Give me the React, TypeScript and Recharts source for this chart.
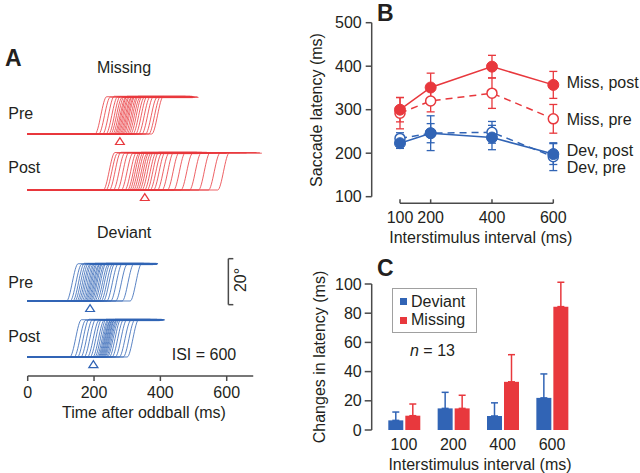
import React from "react";
import {
    ComposedChart,
    LineChart,
    BarChart,
    Line,
    Bar,
    Scatter,
    XAxis,
    YAxis,
    ErrorBar,
    ReferenceLine,
} from "recharts";

const RED = "#e8383d";
const BLUE = "#3164b5";
const INK = "#231f20";
const AXIS = "#4a4a4a";
const FONT = "'Liberation Sans', Arial, Helvetica, sans-serif";

// ---- panel A: single saccade traces, [onset ms, end ms, amplitude deg]
const missPreTraces: [number, number, number][] = [
    [203, 482, 16.2], [214, 478, 16.0], [226, 490, 16.4], [236, 486, 16.1], [244, 495, 16.3],
    [250, 480, 15.9], [256, 500, 16.2], [261, 488, 16.0], [265, 476, 16.4], [269, 492, 16.1],
    [273, 484, 16.3], [277, 498, 15.8], [281, 486, 16.2], [285, 505, 16.0], [289, 490, 16.3],
    [294, 482, 16.1], [299, 496, 16.4], [304, 488, 15.9], [310, 512, 16.2], [317, 494, 16.0],
    [325, 485, 16.3], [334, 500, 16.1], [344, 490, 16.2], [355, 515, 15.9], [365, 497, 16.1],
    [374, 488, 16.3],
];
const missPostTraces: [number, number, number][] = [
    [228, 520, 16.3], [236, 505, 16.0], [246, 540, 16.4], [258, 498, 16.1], [270, 530, 16.3],
    [282, 512, 15.9], [293, 560, 16.2], [301, 500, 16.0], [307, 525, 16.4], [313, 508, 16.1],
    [319, 545, 16.3], [325, 515, 15.8], [331, 500, 16.2], [337, 535, 16.0], [344, 520, 16.3],
    [352, 580, 16.1], [360, 510, 16.4], [369, 550, 15.9], [379, 600, 16.2], [391, 530, 16.0],
    [405, 620, 16.3], [421, 570, 16.1], [440, 640, 16.2], [462, 600, 15.9], [488, 660, 16.1],
    [515, 690, 16.3], [545, 706, 16.0], [573, 700, 16.2],
];
const devPreTraces: [number, number, number][] = [
    [117, 360, 16.2], [128, 372, 16.0], [136, 350, 16.4], [142, 380, 16.1], [148, 365, 16.3],
    [153, 390, 15.9], [158, 358, 16.2], [163, 375, 16.0], [168, 368, 16.4], [172, 385, 16.1],
    [176, 362, 16.3], [180, 378, 15.8], [184, 393, 16.2], [188, 370, 16.0], [192, 382, 16.3],
    [197, 366, 16.1], [202, 388, 16.4], [208, 374, 15.9], [214, 392, 16.2], [221, 380, 16.0],
    [228, 370, 16.3], [238, 386, 16.1], [250, 376, 16.2], [265, 390, 15.9], [285, 384, 16.1],
    [309, 392, 16.3],
];
const devPostTraces: [number, number, number][] = [
    [127, 380, 16.2], [140, 395, 16.0], [150, 370, 16.4], [160, 400, 16.1], [170, 385, 16.3],
    [180, 410, 15.9], [188, 378, 16.2], [196, 402, 16.0], [202, 390, 16.4], [207, 414, 16.1],
    [211, 384, 16.3], [214, 398, 15.8], [217, 406, 16.2], [220, 388, 16.0], [223, 412, 16.3],
    [226, 394, 16.1], [229, 404, 16.4], [232, 386, 15.9], [236, 408, 16.2], [240, 396, 16.0],
    [246, 402, 16.3], [254, 390, 16.1], [264, 410, 16.2], [276, 398, 15.9], [288, 405, 16.1],
    [300, 400, 16.3],
];
const RISE_MS = 35;
const meanLatency = [278, 353, 188, 198]; // missPre, missPost, devPre, devPost
const timeTicks = [0, 200, 400, 600];

// ---- panel B: saccade latency (ms)
const isi = [100, 200, 400, 600];
const missPost = [300, 351, 399, 357];
const missPostErr = [28, 33, 26, 31];
const missPre = [292, 320, 338, 279];
const missPreErr = [36, 25, 35, 33];
const devPost = [223, 246, 236, 198];
const devPostErr = [12, 22, 28, 24];
const devPre = [234, 246, 248, 192];
const devPreErr = [13, 40, 25, 32];
const latencyTicks = [100, 200, 300, 400, 500];

// ---- panel C: change in latency (ms)
const isiLabels = ["100", "200", "400", "600"];
const devChange = [6.6, 14.8, 9.6, 22];
const devChangeErr = [5.7, 11, 9, 16.4];
const missChange = [9.8, 14.8, 33, 84.5];
const missChangeErr = [8, 9, 18.6, 16.7];
const changeTicks = [0, 20, 40, 60, 80, 100];

const bData = isi.map((x, i) => ({
    isi: x,
    missPost: missPost[i],
    missPostErr: missPostErr[i],
    missPre: missPre[i],
    missPreErr: missPreErr[i],
    devPost: devPost[i],
    devPostErr: devPostErr[i],
    devPre: devPre[i],
    devPreErr: devPreErr[i],
}));

const cData = isiLabels.map((x, i) => ({
    isi: x,
    dev: devChange[i],
    devErr: [0, devChangeErr[i]],
    miss: missChange[i],
    missErr: [0, missChangeErr[i]],
}));

// layout of panel A
const PX_PER_MS = 0.3317;
const PX_PER_DEG = 2.3;
const A_LEFT = 27.7;

const tickStyle = { fontSize: 16, fill: INK, fontFamily: FONT };

const Tri = ({ cx, cy, color }: any) => (
    <polygon
        points={`${cx - 4.5},${cy + 3.5} ${cx + 4.5},${cy + 3.5} ${cx},${cy - 3.5}`}
        fill="none"
        stroke={color}
        strokeWidth={1.3}
    />
);

const TraceRow = ({
    traces,
    mean,
    color,
    top,
    xMax,
    yMin,
    axis,
    children,
}: any) => {
    const plotH = (20 - yMin) * PX_PER_DEG;
    const plotW = xMax * PX_PER_MS;
    const axisH = axis ? 40 : 0;
    return (
        <div style={{ position: "absolute", left: 0, top }}>
            <ComposedChart
                width={A_LEFT + plotW + 2}
                height={4 + plotH + axisH + 2}
                margin={{ top: 4, right: 2, bottom: 2, left: A_LEFT }}
            >
                <XAxis
                    type="number"
                    dataKey="t"
                    domain={[0, xMax]}
                    hide={!axis}
                    ticks={timeTicks}
                    interval={0}
                    height={40}
                    tickSize={5}
                    tickMargin={5.6}
                    axisLine={{ stroke: AXIS, strokeWidth: 1.5 }}
                    tickLine={{ stroke: AXIS, strokeWidth: 1.5 }}
                    tick={tickStyle}
                />
                <YAxis type="number" dataKey="v" domain={[yMin, 20]} hide />
                {traces.map(([on, end, amp]: number[], i: number) => (
                    <Line
                        key={i}
                        data={[
                            { t: 0, v: 0 },
                            { t: on, v: 0 },
                            { t: on + RISE_MS, v: amp },
                            { t: end, v: amp },
                        ]}
                        dataKey="v"
                        type="monotone"
                        stroke={color}
                        strokeWidth={0.8}
                        dot={false}
                        activeDot={false}
                        isAnimationActive={false}
                    />
                ))}
                <Scatter
                    data={[{ t: mean, v: -3.1 }]}
                    shape={(p: any) => <Tri {...p} color={color} />}
                    isAnimationActive={false}
                />
                {children}
            </ComposedChart>
        </div>
    );
};

const Txt = ({ x, y, children, center, size = 16, bold, rotate, style }: any) => (
    <div
        style={{
            position: "absolute",
            left: x,
            top: y,
            transform: `translate(${center || rotate ? "-50%" : "0"}, -50%)${rotate ? " rotate(-90deg)" : ""}`,
            whiteSpace: "nowrap",
            fontSize: size,
            lineHeight: `${size}px`,
            fontWeight: bold ? 700 : 400,
            color: INK,
            ...style,
        }}
    >
        {children}
    </div>
);

const filledDot = (color: string) => (p: any) => (
    <circle key={`f-${p.index}`} cx={p.cx} cy={p.cy} r={5.5} fill={color} stroke={color} strokeWidth={1} />
);
const openDot = (color: string) => (p: any) => (
    <circle key={`o-${p.index}`} cx={p.cx} cy={p.cy} r={5} fill="#fff" stroke={color} strokeWidth={1.5} />
);

const IsiTick = ({ x, y, payload }: any) => (
    <g>
        <line x1={x} x2={x} y1={y} y2={y - 4} stroke={AXIS} strokeWidth={1.5} />
        <text x={x} y={y + 19.7} textAnchor="middle" {...tickStyle}>
            {payload.value}
        </text>
    </g>
);

const B_XMIN = 7.7;
const B_YMIN = 84.8;

export default function App() {
    return (
        <div
            style={{
                position: "absolute",
                left: 0,
                top: 0,
                width: 640,
                height: 473,
                background: "#fff",
                overflow: "hidden",
                fontFamily: FONT,
            }}
        >
            {/* ---------------- panel A ---------------- */}
            <TraceRow traces={missPreTraces} mean={meanLatency[0]} color={RED} top={84} xMax={760} yMin={-4} />
            <TraceRow traces={missPostTraces} mean={meanLatency[1]} color={RED} top={140} xMax={760} yMin={-4} />
            <TraceRow traces={devPreTraces} mean={meanLatency[2]} color={BLUE} top={250.7} xMax={760} yMin={-4}>
                <ReferenceLine segment={[{ x: 605, y: -1.6 }, { x: 605, y: 18.4 }]} stroke={AXIS} strokeWidth={1.5} ifOverflow="visible" />
                <ReferenceLine segment={[{ x: 605, y: -1.6 }, { x: 620, y: -1.6 }]} stroke={AXIS} strokeWidth={1.5} ifOverflow="visible" />
                <ReferenceLine segment={[{ x: 605, y: 18.4 }, { x: 620, y: 18.4 }]} stroke={AXIS} strokeWidth={1.5} ifOverflow="visible" />
            </TraceRow>
            <TraceRow traces={devPostTraces} mean={meanLatency[3]} color={BLUE} top={306.7} xMax={680} yMin={-8.26} axis />

            <Txt x={5} y={58} size={23} bold>A</Txt>
            <Txt x={124} y={68.3} center>Missing</Txt>
            <Txt x={8.3} y={114}>Pre</Txt>
            <Txt x={8.3} y={168.3}>Post</Txt>
            <Txt x={124.2} y={233.3} center>Deviant</Txt>
            <Txt x={8.3} y={282.7}>Pre</Txt>
            <Txt x={8.3} y={336.7}>Post</Txt>
            <Txt x={171.7} y={355}>ISI = 600</Txt>
            <Txt x={240.5} y={280} rotate>20°</Txt>
            <Txt x={144} y={413} center>Time after oddball (ms)</Txt>

            {/* ---------------- panel B ---------------- */}
            <div style={{ position: "absolute", left: 300, top: 0 }}>
                <LineChart
                    width={340}
                    height={250}
                    data={bData}
                    margin={{ top: 22.7, right: 86.7, bottom: 6.7, left: 21.7 }}
                >
                    <XAxis
                        type="number"
                        dataKey="isi"
                        domain={[B_XMIN, 600]}
                        ticks={isi}
                        interval={0}
                        height={40}
                        axisLine={false}
                        tickLine={false}
                        tickSize={0}
                        tickMargin={0}
                        tick={(p: any) => <IsiTick {...p} />}
                    />
                    <YAxis
                        type="number"
                        width={50}
                        domain={[B_YMIN, 500]}
                        ticks={latencyTicks}
                        interval={0}
                        axisLine={false}
                        tickLine={{ stroke: AXIS, strokeWidth: 1.5 }}
                        tickSize={6}
                        tickMargin={4}
                        tick={tickStyle}
                    />
                    <ReferenceLine segment={[{ x: B_XMIN, y: 100 }, { x: B_XMIN, y: 500 }]} stroke={AXIS} strokeWidth={1.5} ifOverflow="visible" />
                    <ReferenceLine segment={[{ x: 100, y: B_YMIN }, { x: 600, y: B_YMIN }]} stroke={AXIS} strokeWidth={1.5} ifOverflow="visible" />
                    <Line dataKey="devPre" stroke={BLUE} strokeWidth={1.5} strokeDasharray="7 5" dot={openDot(BLUE)} activeDot={false} isAnimationActive={false}>
                        <ErrorBar dataKey="devPreErr" direction="y" width={4} stroke={BLUE} strokeWidth={1.3} />
                    </Line>
                    <Line dataKey="missPre" stroke={RED} strokeWidth={1.5} strokeDasharray="7 5" dot={openDot(RED)} activeDot={false} isAnimationActive={false}>
                        <ErrorBar dataKey="missPreErr" direction="y" width={4} stroke={RED} strokeWidth={1.3} />
                    </Line>
                    <Line dataKey="devPost" stroke={BLUE} strokeWidth={1.5} dot={filledDot(BLUE)} activeDot={false} isAnimationActive={false}>
                        <ErrorBar dataKey="devPostErr" direction="y" width={4} stroke={BLUE} strokeWidth={1.3} />
                    </Line>
                    <Line dataKey="missPost" stroke={RED} strokeWidth={1.5} dot={filledDot(RED)} activeDot={false} isAnimationActive={false}>
                        <ErrorBar dataKey="missPostErr" direction="y" width={4} stroke={RED} strokeWidth={1.3} />
                    </Line>
                </LineChart>
            </div>

            <Txt x={377} y={13} size={23} bold>B</Txt>
            <Txt x={317} y={110} rotate>Saccade latency (ms)</Txt>
            <Txt x={480.8} y={238.3} center>Interstimulus interval (ms)</Txt>
            <Txt x={566.7} y={83.3}>Miss, post</Txt>
            <Txt x={566.7} y={120}>Miss, pre</Txt>
            <Txt x={566.7} y={151} style={{ lineHeight: "14px" }}>Dev, post</Txt>
            <Txt x={566.7} y={167.5} style={{ lineHeight: "14px" }}>Dev, pre</Txt>

            {/* ---------------- panel C ---------------- */}
            <div style={{ position: "absolute", left: 300, top: 250 }}>
                <BarChart
                    width={340}
                    height={223}
                    data={cData}
                    margin={{ top: 26.7, right: 63.3, bottom: 13, left: 21.7 }}
                    barSize={15}
                    barGap={2}
                >
                    <XAxis
                        dataKey="isi"
                        padding={{ left: 7.6, right: 0 }}
                        axisLine={false}
                        tickLine={false}
                        tickSize={6}
                        tickMargin={2.3}
                        interval={0}
                        height={30}
                        tick={tickStyle}
                    />
                    <XAxis xAxisId="px" type="number" domain={[0, 205]} allowDataOverflow hide />
                    <YAxis
                        type="number"
                        width={50}
                        domain={[0, 105]}
                        ticks={changeTicks}
                        interval={0}
                        axisLine={false}
                        tickLine={{ stroke: AXIS, strokeWidth: 1.5 }}
                        tickSize={7}
                        tickMargin={3}
                        tick={tickStyle}
                    />
                    <ReferenceLine xAxisId="px" segment={[{ x: 0, y: 0 }, { x: 0, y: 100 }]} stroke={AXIS} strokeWidth={1.5} ifOverflow="visible" />
                    <ReferenceLine xAxisId="px" segment={[{ x: 7.6, y: 0 }, { x: 205, y: 0 }]} stroke={AXIS} strokeWidth={1.5} ifOverflow="visible" />
                    <Bar dataKey="dev" fill={BLUE} isAnimationActive={false}>
                        <ErrorBar dataKey="devErr" direction="y" width={3.5} stroke={BLUE} strokeWidth={1.5} />
                    </Bar>
                    <Bar dataKey="miss" fill={RED} isAnimationActive={false}>
                        <ErrorBar dataKey="missErr" direction="y" width={3.5} stroke={RED} strokeWidth={1.5} />
                    </Bar>
                </BarChart>
            </div>

            <Txt x={377} y={268} size={23} bold>C</Txt>
            <Txt x={320} y={357} rotate>Changes in latency (ms)</Txt>
            <Txt x={480} y={465} center>Interstimulus interval (ms)</Txt>
            <div
                style={{
                    position: "absolute",
                    left: 392.3,
                    top: 288.3,
                    width: 84.4,
                    height: 44.4,
                    boxSizing: "border-box",
                    border: "1.5px solid #a0a0a0",
                }}
            />
            <div style={{ position: "absolute", left: 400, top: 297.5, width: 7, height: 7, background: BLUE }} />
            <div style={{ position: "absolute", left: 400, top: 316.5, width: 7, height: 7, background: RED }} />
            <Txt x={411} y={301.5}>Deviant</Txt>
            <Txt x={411} y={320}>Missing</Txt>
            <Txt x={410} y={351}>
                <i>n</i> = 13
            </Txt>
        </div>
    );
}
